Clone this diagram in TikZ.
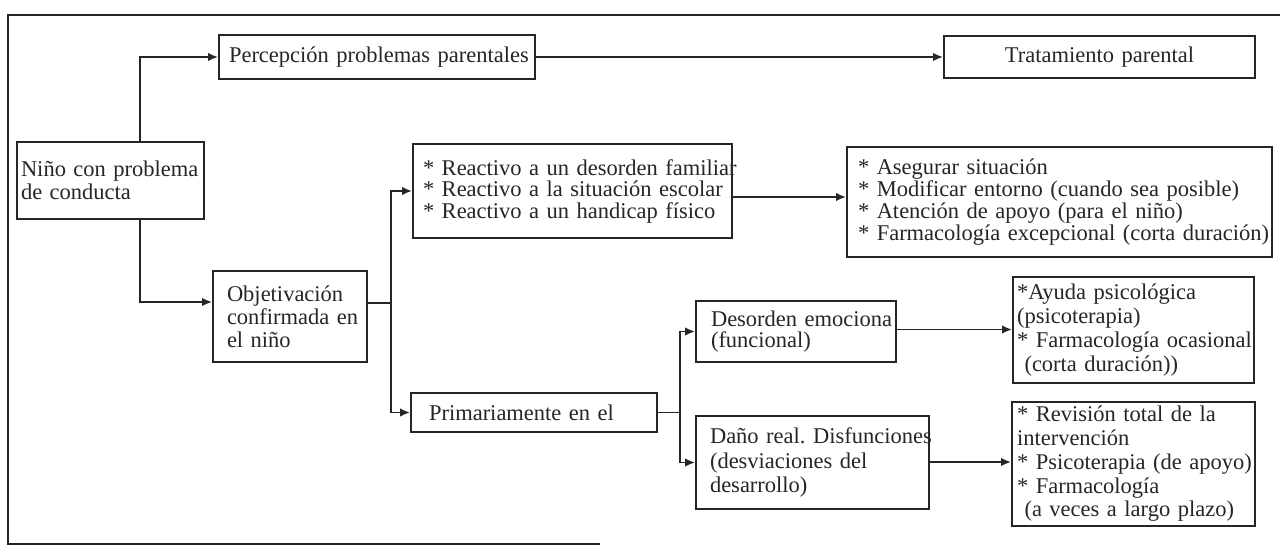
\documentclass[tikz,border=0pt]{standalone}
\usepackage{fontspec}
\setmainfont{Liberation Serif}
\usetikzlibrary{arrows.meta}
\frenchspacing

\begin{document}
\begin{tikzpicture}[x=1pt, y=-1pt,
  line width=1.8pt,
  leadskip/.style={font=\fontsize{22.5}{#1}\selectfont},
  box/.style={draw=black!85, line width=1.8pt, fill=white, inner ysep=0pt,
              align=left, text=black!85, leadskip=23},
  link/.style={draw=black!85, line width=1.8pt},
  arr/.style={link, -{Latex[length=10pt, width=8.5pt]}}
]
\useasboundingbox (0,0) rectangle (1280,546);

% outer frame (open on the right)
\draw[link] (1280,15) -- (8,15) -- (8,544) -- (600,544);

% boxes: minimum width/height fix the frame, inner xsep sets the left margin
\node[box, minimum width=316pt, minimum height=44pt, inner xsep=10pt, text width=296pt]
  (perc) at (377,57) {\mbox{Percepción problemas parentales}};
\node[box, align=center, minimum width=311pt, minimum height=42pt, inner xsep=10pt, text width=291pt]
  (trat) at (1099.5,57) {\mbox{Tratamiento parental}};
\node[box, minimum width=187pt, minimum height=77pt, inner xsep=4pt, text width=179pt]
  (nino) at (110.5,180.5) {\mbox{Niño con problema}\\\mbox{de conducta}};
\node[box, minimum width=154pt, minimum height=91pt, inner xsep=14pt, text width=126pt]
  (obj) at (290,316.5) {\mbox{Objetivación}\\\mbox{confirmada en}\\\mbox{el niño}};
\node[box, leadskip=21.5, minimum width=319pt, minimum height=94pt, inner xsep=10pt, text width=299pt]
  (react) at (572.5,191) {\mbox{* Reactivo a un desorden familiar}\\\mbox{* Reactivo a la situación escolar}\\\mbox{* Reactivo a un handicap físico}};
\node[box, leadskip=22, minimum width=425pt, minimum height=110pt, inner xsep=11pt, text width=403pt]
  (aseg) at (1059.5,202) {\mbox{* Asegurar situación}\\\mbox{* Modificar entorno (cuando sea posible)}\\\mbox{* Atención de apoyo (para el niño)}\\\mbox{* Farmacología excepcional (corta duración)}};
\node[box, minimum width=246pt, minimum height=39pt, inner xsep=18pt, text width=210pt]
  (prim) at (534,412.5) {\mbox{Primariamente en el}};
\node[box, leadskip=21.5, minimum width=200pt, minimum height=61pt, inner xsep=15pt, text width=170pt]
  (deso) at (796,331.5) {\mbox{Desorden emociona}\\\mbox{(funcional)}};
\node[box, leadskip=24.5, minimum width=233pt, minimum height=93pt, inner xsep=14pt, text width=205pt]
  (dano) at (812.5,462.5) {\mbox{Daño real. Disfunciones}\\\mbox{(desviaciones del}\\\mbox{desarrollo)}};
\node[box, leadskip=24, minimum width=241pt, minimum height=106pt, inner xsep=4pt, text width=233pt]
  (ayuda) at (1133.5,330) {\mbox{*Ayuda psicológica}\\\mbox{(psicoterapia)}\\\mbox{* Farmacología ocasional}\\\mbox{\ (corta duración))}};
\node[box, leadskip=23.7, minimum width=243pt, minimum height=124pt, inner xsep=5pt, text width=233pt]
  (rev) at (1133.5,464) {\mbox{* Revisión total de la}\\\mbox{intervención}\\\mbox{* Psicoterapia (de apoyo)}\\\mbox{* Farmacología}\\\mbox{\ (a veces a largo plazo)}};

% branch points
\coordinate (forkA) at (391,303);
\coordinate (forkB) at (680,412.5);

% connectors
\draw[arr] ([xshift=29.5pt]nino.north) |- (perc.west);
\draw[arr] ([xshift=29.5pt]nino.south) |- ([yshift=14.5pt]obj.west);
\draw[arr] (perc.east) -- (trat.west);
\draw[link] ([yshift=13.5pt]obj.east) -- (forkA);
\draw[arr] (forkA) |- (react.west);
\draw[arr] (forkA) |- (prim.west);
\draw[arr] ([yshift=-6pt]react.east) -- ([yshift=5pt]aseg.west);
\draw[link] (prim.east) -- (forkB);
\draw[arr] (forkB) |- (deso.west);
\draw[arr] (forkB) |- (dano.west);
\draw[arr] ([yshift=2pt]deso.east) -- ([yshift=0.5pt]ayuda.west);
\draw[arr] ([yshift=0.5pt]dano.east) -- ([yshift=2pt]rev.west);
\end{tikzpicture}
\end{document}
